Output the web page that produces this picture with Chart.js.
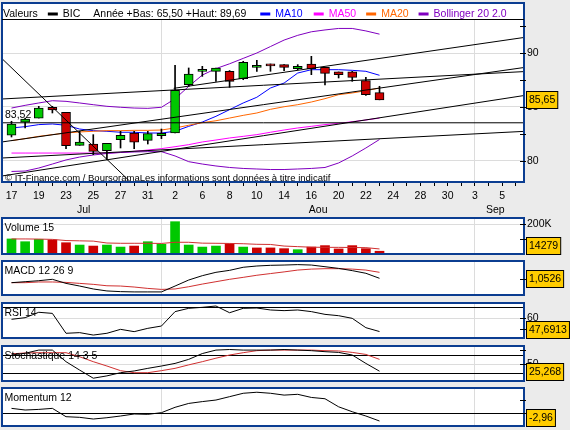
<!DOCTYPE html>
<html>
<head>
<meta charset="utf-8">
<script src="https://cdn.jsdelivr.net/npm/chart.js@4.4.1/dist/chart.umd.min.js"></script>
<style>
  html, body { margin: 0; padding: 0; background: #ebebeb; }
  #wrap { position: relative; width: 570px; height: 430px; overflow: hidden; }
  canvas { position: absolute; left: 0; }
</style>
</head>
<body>
<div id="wrap">
  <canvas id="cMain" width="570" height="215" style="top:0px"></canvas>
  <canvas id="cVol" width="570" height="40" style="top:216px"></canvas>
  <canvas id="cMacd" width="570" height="38" style="top:259px"></canvas>
  <canvas id="cRsi" width="570" height="39" style="top:301px"></canvas>
  <canvas id="cSto" width="570" height="39" style="top:344px"></canvas>
  <canvas id="cMom" width="570" height="42" style="top:386px"></canvas>
</div>
<script>
"use strict"

// jours de bourse affichés (17 juillet -> 6 septembre)
const days = [17,18,19,20,23,24,25,26,27,30,31,1,2,3,6,7,8,9,10,13,14,15,16,17,20,21,22,23,24,27,28,29,30,31,3,4,5,6];
const months = ["Jul", "Aou", "Sep"];
const monthPos = [5.3, 22.5, 35.5];

// cours BIC
const open  = [82.36,83.57,83.96,84.96,84.49,81.43,81.55,80.93,81.95,82.57,81.89,82.33,82.57,87.06,88.30,88.30,88.30,87.61,88.67,88.82,88.92,88.55,88.98,88.67,88.24,88.24,87.43,86.32];
const high  = [83.66,83.96,85.05,85.05,84.49,82.73,82.42,81.61,82.73,82.73,82.73,82.94,88.85,88.61,88.76,88.61,88.37,89.23,89.32,88.98,88.92,88.92,89.69,88.67,88.24,88.30,87.74,86.91];
const low   = [82.20,83.04,83.96,84.43,81.11,81.43,80.56,80.09,81.18,81.11,81.55,82.05,82.57,86.91,87.83,87.37,86.81,87.52,88.30,88.30,88.36,88.45,87.99,87.03,87.68,87.37,86.07,85.65];
const close = [83.41,83.87,84.89,84.71,81.39,81.74,80.87,81.61,82.36,81.71,82.51,82.54,86.53,88.05,88.32,88.61,87.37,89.13,88.86,88.80,88.67,88.76,88.55,88.11,87.99,87.74,86.13,85.65];

// moyennes mobiles et bandes de Bollinger
const ma10  = [83.04,83.16,83.35,83.41,83.29,82.94,82.79,82.73,82.64,82.64,82.57,82.57,82.73,83.19,83.59,84.12,84.74,85.36,85.89,86.75,87.21,88.14,88.45,88.45,88.45,88.39,88.30,87.93];
const ma20  = [81.86,82.05,82.26,82.42,82.57,82.67,82.73,82.79,82.79,82.82,82.82,82.85,83.04,83.29,83.53,83.71,83.96,84.21,84.43,84.77,85.01,85.20,85.45,85.76,86.13,86.29,86.50,86.75];
const ma50  = [80.71,80.71,80.71,80.71,80.71,80.71,80.71,80.71,80.77,80.87,80.99,81.12,81.30,81.49,81.74,81.92,82.11,82.26,82.42,82.64,82.85,83.04,83.19,83.35,83.47,83.62,83.78,83.96];
const bbUp  = [84.89,85.14,85.36,85.57,85.51,85.36,85.20,85.05,84.96,84.89,84.86,84.96,85.75,86.90,87.95,88.55,89.00,89.50,90.00,90.60,91.20,91.64,91.97,92.14,92.28,92.28,92.05,91.75];
const bbLow = [79.00,79.04,79.32,79.69,80.07,80.34,80.53,80.67,80.76,80.81,80.84,80.84,80.44,79.91,79.69,79.51,79.37,79.28,79.23,79.18,79.18,79.23,79.28,79.37,79.79,80.44,81.18,81.97];

// lignes de tendance [indice jour, valeur]
const trendLines = [
  [[-0.7, 89.48], [10, 76.48]],
  [[11.9, 86.72], [37.7, 91.46]],
  [[-0.7, 81.74], [37.7, 88.67]],
  [[-0.7, 85.73], [37.7, 88.28]],
  [[-0.7, 78.58], [37.7, 86.07]],
  [[-0.7, 80.25], [37.7, 82.73]],
  [[-0.7, 83.52], [37.7, 83.52]]
];
const refPrice = 83.52;

// indicateurs
const volume = [99000,80000,96000,92000,73000,57000,50000,57000,43000,50000,80000,62000,218000,57000,43000,50000,66000,43000,37000,37000,32000,25000,43000,53000,30000,53000,32000,14279];
const volMA  = [99000,99000,98000,96000,88000,86000,84000,71000,69000,69000,69000,68000,76000,76000,70000,69000,68000,66000,62000,61000,50000,46000,42000,41000,41000,40000,39000,30000];
const macd   = [0.74,0.81,0.88,0.98,0.69,0.50,0.29,0.15,0.10,0.08,0.08,0.08,0.50,0.93,1.24,1.48,1.62,1.84,1.93,1.98,2.00,2.03,2.00,1.88,1.76,1.60,1.41,1.0526];
const signal = [0.74,0.74,0.79,0.79,0.76,0.69,0.62,0.52,0.50,0.43,0.33,0.26,0.29,0.45,0.64,0.81,0.98,1.12,1.27,1.39,1.51,1.64,1.71,1.74,1.74,1.71,1.64,1.48];
const rsi    = [58.8,60.3,65.2,64.2,46.1,46.7,44.5,46.1,49.7,47.6,50.6,52.7,65.8,68.8,69.7,70.9,64.8,68.8,69.1,67.3,66.7,67.3,65.8,63.3,62.1,59.7,51.2,47.6913];
const stoK   = [81,87,98,98,58,29,1,9,20,26,35,43,52,66,86,98,100,98,98,98,100,98,96,92.5,90,81,52,25.268];
const stoD   = [85,88,89,89,89,75,58,43,27,20,20,27,35,47,58,70,81,89,96,98,98,98,98,96,95,90,83,66];
const mom    = [1.9,1.27,1.5,1.9,-1.3,-1.55,-2.2,-1.7,-1.04,-0.27,-0.4,0.25,2.3,3.8,4.5,5.1,6.4,7.7,8.1,7.7,7.0,7.3,6.1,5.6,2.5,0.6,-1.04,-2.96];

const GREEN = "#00c800", RED = "#cc0000";
const BLUE = "#0000ff", MAGENTA = "#ff00ff", ORANGE = "#ff6600", PURPLE = "#8000c0";
const FRAME = "#0b3d91";
const FONT = "'Liberation Sans', Arial, sans-serif";

const X_MIN = -0.697, X_MAX = 37.601;
const monthStarts = days.map((d, i) => (i > 0 && d < days[i - 1]) ? i : -1).filter(i => i >= 0);

Chart.defaults.font.family = FONT;
Chart.defaults.font.size = 10.5;
Chart.defaults.color = "#000";
Chart.defaults.animation = false;

function pts(arr) {
    return arr.map((v, i) => ({ x: i, y: v }));
}

function ligne(arr, color, order) {
    return { type: "line", data: pts(arr), borderColor: color, borderWidth: 1,
             pointRadius: 0, tension: 0, fill: false, order: order || 0 };
}

// pas de marge automatique autour des axes
function sansMarge(s) {
    s.paddingTop = 0; s.paddingBottom = 0; s.paddingLeft = 0; s.paddingRight = 0;
}

function axeX(labels) {
    return {
        type: "linear", min: X_MIN, max: X_MAX, offset: false,
        afterBuildTicks: s => { s.ticks = days.map((d, i) => ({ value: i })); },
        afterFit: s => { s.height = labels ? 33 : 0; sansMarge(s); },
        grid: {
            offset: false, lineWidth: 1,
            color: c => (c.tick && monthStarts.includes(c.tick.value)) ? "#dcdcdc" : "rgba(0,0,0,0)",
            drawTicks: labels, tickLength: 4, tickColor: "#000"
        },
        border: { display: false },
        ticks: { display: labels, autoSkip: false, maxRotation: 0, padding: 4,
                 callback: v => (v % 2 === 0 ? String(days[v]) : "") }
    };
}

function axeY(min, max, vals, labels, grids) {
    return {
        position: "right", min: min, max: max, beginAtZero: false,
        afterBuildTicks: s => { s.ticks = vals.map(v => ({ value: v })); },
        afterFit: s => { s.width = 46; sansMarge(s); },
        grid: { color: c => (c.tick && grids.includes(c.tick.value)) ? "#dcdcdc" : "rgba(0,0,0,0)",
                drawTicks: false },
        border: { display: false },
        ticks: { padding: 3, callback: (v, i) => labels[i] || "" }
    };
}

// fond blanc, cadre bleu, lignes de référence, étiquette et boîte de valeur
const panelPlugin = {
    id: "panel",
    beforeDraw(chart, args, o) {
        const ctx = chart.ctx, a = chart.chartArea;
        const top = o.top !== undefined ? o.top : a.top;
        ctx.save();
        ctx.fillStyle = "#fff";
        ctx.fillRect(a.left, top, a.right - a.left, a.bottom - top);
        ctx.restore();
    },
    beforeDatasetsDraw(chart, args, o) {
        const ctx = chart.ctx, a = chart.chartArea, y = chart.scales.y;
        ctx.save();
        ctx.strokeStyle = "#000";
        ctx.lineWidth = 1;
        (o.refLines || []).forEach(v => {
            const py = Math.round(y.getPixelForValue(v)) + 0.5;
            ctx.beginPath(); ctx.moveTo(a.left, py); ctx.lineTo(a.right, py); ctx.stroke();
        });
        ctx.restore();
    },
    afterDraw(chart, args, o) {
        const ctx = chart.ctx, a = chart.chartArea, y = chart.scales.y;
        const top = o.top !== undefined ? o.top : a.top;
        ctx.save();
        ctx.font = "10.5px " + FONT;
        ctx.fillStyle = "#000";
        ctx.textBaseline = "alphabetic";
        if (o.label) ctx.fillText(o.label, 4.5, top + 13);

        ctx.strokeStyle = FRAME;
        ctx.lineWidth = 2;
        ctx.strokeRect(2, top, 522, a.bottom - top);

        ctx.strokeStyle = "#000";
        ctx.lineWidth = 1;
        y.ticks.forEach(t => {
            const py = Math.round(y.getPixelForValue(t.value)) + 0.5;
            ctx.beginPath(); ctx.moveTo(a.right - 4, py); ctx.lineTo(a.right + 2, py); ctx.stroke();
        });

        if (o.value !== undefined) {
            const txt = String(o.value).replace(".", ",");
            const w = ctx.measureText(txt).width + 5;
            let by = y.getPixelForValue(o.value) - 8.5;
            by = Math.min(by, a.bottom - 17);
            by = Math.max(by, a.top);
            by = Math.round(by) + 0.5;
            ctx.fillStyle = "#ffcc00";
            ctx.fillRect(526.5, by, w, 17);
            ctx.strokeRect(526.5, by, w, 17);
            ctx.fillStyle = "#000";
            ctx.textBaseline = "middle";
            ctx.fillText(txt, 529, by + 9);
        }
        ctx.restore();
    }
};

const legendItems = [
    { text: "Valeurs", gap: 10 },
    { swatch: "#000", text: "BIC", gap: 13 },
    { text: "Année +Bas: 65,50 +Haut: 89,69", gap: 14 },
    { swatch: BLUE, text: "MA10", color: BLUE, gap: 11 },
    { swatch: MAGENTA, text: "MA50", color: MAGENTA, gap: 10 },
    { swatch: ORANGE, text: "MA20", color: ORANGE, gap: 10 },
    { swatch: PURPLE, text: "Bollinger 20 2.0", color: PURPLE, gap: 0 }
];

// légende, prix de référence, copyright et mois
const mainExtras = {
    id: "mainExtras",
    afterDraw(chart) {
        const ctx = chart.ctx, a = chart.chartArea, x = chart.scales.x, y = chart.scales.y;
        ctx.save();
        ctx.strokeStyle = "#000";
        ctx.lineWidth = 1;
        ctx.beginPath(); ctx.moveTo(2, 19.5); ctx.lineTo(524, 19.5); ctx.stroke();

        ctx.font = "10.5px " + FONT;
        ctx.textBaseline = "alphabetic";
        let px = 3;
        legendItems.forEach(it => {
            if (it.swatch) {
                ctx.fillStyle = it.swatch;
                ctx.fillRect(px, 12.5, 10, 3);
                px += 15;
            }
            ctx.fillStyle = it.color || "#000";
            ctx.fillText(it.text, px, 17);
            px += ctx.measureText(it.text).width + it.gap;
        });

        ctx.fillStyle = "#000";
        ctx.fillText(String(refPrice).replace(".", ","), 5, y.getPixelForValue(refPrice) - 4.5);

        ctx.font = "9.5px " + FONT;
        ctx.fillText("© IT-Finance.com / BoursoramaLes informations sont données à titre indicatif", 5, 180.5);

        ctx.font = "10.5px " + FONT;
        ctx.textAlign = "center";
        months.forEach((m, i) => ctx.fillText(m, x.getPixelForValue(monthPos[i]), 213));
        ctx.restore();
    }
};

function baseOptions(yAxis, panel, labels, padTop, padBottom) {
    return {
        responsive: false,
        events: [],
        layout: { padding: { top: padTop, left: 2, right: 0, bottom: padBottom } },
        scales: { x: axeX(labels), y: yAxis },
        plugins: { legend: { display: false }, tooltip: { enabled: false }, panel: panel }
    };
}

// graphique principal
new Chart(document.getElementById("cMain"), {
    type: "bar",
    data: {
        datasets: [
            ...trendLines.map(l => ({
                type: "line", data: l.map(p => ({ x: p[0], y: p[1] })),
                borderColor: "#000", borderWidth: 1, pointRadius: 0, order: 0
            })),
            {
                type: "bar", data: close.map((c, i) => ({ x: i, y: [open[i], c] })),
                backgroundColor: close.map((c, i) => c >= open[i] ? GREEN : RED),
                borderColor: "#000", borderWidth: 1, borderSkipped: false,
                barThickness: 9, minBarLength: 2, grouped: false, order: 1
            },
            {
                type: "bar", data: close.map((c, i) => ({ x: i, y: [low[i], high[i]] })),
                backgroundColor: "#000", barThickness: 1, grouped: false, order: 2
            },
            ligne(bbUp, PURPLE, 3), ligne(bbLow, PURPLE, 3),
            ligne(ma50, MAGENTA, 3), ligne(ma20, ORANGE, 3), ligne(ma10, BLUE, 3)
        ]
    },
    options: baseOptions(
        axeY(78.022, 93.157, [80, 82.5, 85, 87.5, 90, 92.5], ["80", "", "85", "", "90", ""], [80, 85, 90]),
        { top: 3, value: close[close.length - 1] }, true, 19, 0),
    plugins: [panelPlugin, mainExtras]
});

// volume
const volColors = close.map((c, i) => c >= (i > 0 ? close[i - 1] : open[i]) ? GREEN : RED);
new Chart(document.getElementById("cVol"), {
    type: "bar",
    data: {
        datasets: [
            ligne(volMA, "#d03030", 0),
            { type: "bar", data: pts(volume), backgroundColor: volColors, barThickness: 9,
              grouped: false, order: 1 }
        ]
    },
    options: baseOptions(
        axeY(-4800, 243400, [100000, 200000], ["", "200K"], [200000]),
        { label: "Volume 15", value: volume[volume.length - 1] }, false, 2, 2),
    plugins: [panelPlugin]
});

// MACD
new Chart(document.getElementById("cMacd"), {
    type: "line",
    data: { datasets: [ligne(macd, "#000", 0), ligne(signal, "#d03030", 1)] },
    options: baseOptions(
        axeY(-0.140, 2.288, [1], [""], []),
        { label: "MACD 12 26 9", value: macd[macd.length - 1] }, false, 2, 2),
    plugins: [panelPlugin]
});

// RSI
new Chart(document.getElementById("cRsi"), {
    type: "line",
    data: { datasets: [ligne(rsi, "#000", 0)] },
    options: baseOptions(
        axeY(41.82, 73.64, [50, 60], ["50", "60"], [60]),
        { label: "RSI 14", refLines: [70], value: rsi[rsi.length - 1] }, false, 2, 2),
    plugins: [panelPlugin]
});

// stochastique
new Chart(document.getElementById("cSto"), {
    type: "line",
    data: { datasets: [ligne(stoK, "#000", 0), ligne(stoD, "#d03030", 1)] },
    options: baseOptions(
        axeY(-8.62, 112.07, [50, 100], ["50", ""], [50]),
        { label: "Stochastique 14 3 5", refLines: [80, 20], value: stoK[stoK.length - 1] }, false, 2, 2),
    plugins: [panelPlugin]
});

// momentum
new Chart(document.getElementById("cMom"), {
    type: "line",
    data: { datasets: [ligne(mom, "#000", 0)] },
    options: baseOptions(
        axeY(-4.88, 9.73, [0, 5], ["", ""], []),
        { label: "Momentum 12", refLines: [0], value: mom[mom.length - 1] }, false, 2, 2),
    plugins: [panelPlugin]
});
</script>
</body>
</html>
